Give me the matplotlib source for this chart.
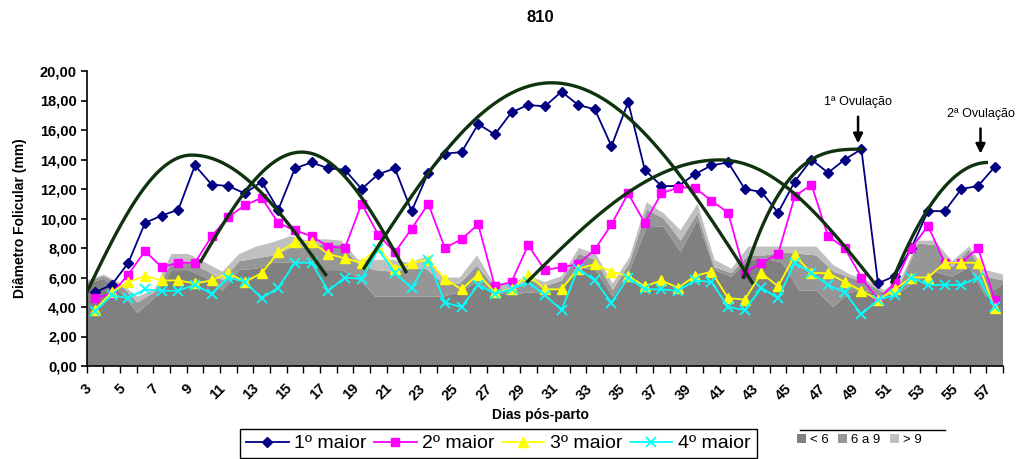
import numpy as np
import matplotlib
matplotlib.use('Agg')
import matplotlib.pyplot as plt
from matplotlib.lines import Line2D

plt.rcParams['font.family'] = ['Liberation Sans', 'DejaVu Sans']

# dias pos-parto (3 .. 57)
days = list(range(3, 58))

# diametro dos folículos (mm)
maior1 = [5.0, 5.5, 7.0, 9.7, 10.2, 10.6, 13.6, 12.3, 12.2, 11.7, 12.5, 10.6, 13.4, 13.8,
          13.4, 13.3, 12.0, 13.0, 13.4, 10.5, 13.1, 14.4, 14.5, 16.4, 15.7, 17.2, 17.7, 17.6,
          18.6, 17.7, 17.4, 14.9, 17.9, 13.3, 12.2, 12.2, 13.0, 13.6, 13.8, 12.0, 11.8, 10.4,
          12.5, 14.0, 13.1, 14.0, 14.7, 5.6, 6.1, 8.0, 10.5, 10.5, 12.0, 12.2, 13.5]
maior2 = [4.6, 4.9, 6.2, 7.8, 6.7, 7.0, 7.0, 8.8, 10.1, 10.9, 11.4, 9.7, 9.2, 8.8,
          8.1, 8.0, 11.0, 8.9, 7.7, 9.3, 11.0, 8.0, 8.6, 9.6, 5.4, 5.7, 8.2, 6.5,
          6.7, 6.9, 7.9, 9.6, 11.7, 9.7, 11.7, 12.1, 12.1, 11.2, 10.4, 6.3, 7.0, 7.6,
          11.5, 12.3, 8.8, 8.0, 6.0, 4.5, 5.6, 8.0, 9.5, 7.0, 7.0, 8.0, 4.5]
maior3 = [3.8, 5.0, 5.7, 6.1, 5.8, 5.8, 5.6, 5.8, 6.3, 5.7, 6.3, 7.7, 8.4, 8.4,
          7.6, 7.3, 7.0, 8.1, 6.6, 7.0, 7.2, 5.9, 5.2, 6.2, 5.0, 5.2, 6.2, 5.2,
          5.2, 6.6, 6.9, 6.4, 6.1, 5.4, 5.8, 5.3, 6.1, 6.4, 4.6, 4.5, 6.3, 5.4,
          7.5, 6.3, 6.3, 5.7, 5.1, 4.5, 5.2, 6.0, 6.0, 7.0, 7.0, 7.0, 3.9]
maior4 = [3.7, 4.8, 4.6, 5.2, 5.1, 5.1, 5.5, 4.9, 6.0, 5.7, 4.6, 5.3, 7.0, 7.0,
          5.1, 6.0, 5.9, 7.9, 6.3, 5.3, 7.2, 4.3, 4.0, 5.5, 4.9, 5.2, 5.7, 4.8,
          3.8, 6.6, 5.8, 4.3, 6.0, 5.2, 5.2, 5.1, 5.8, 5.7, 4.0, 3.8, 5.3, 4.6,
          7.0, 6.3, 5.5, 5.0, 3.5, 4.5, 4.8, 6.0, 5.5, 5.5, 5.5, 6.0, 4.0]

# classes de tamanho (areas empilhadas)
menor6 = [5.6, 5.9, 5.0, 3.6, 4.6, 6.5, 6.5, 6.0, 5.1, 6.5, 6.6, 7.0, 7.0, 7.0,
          6.5, 6.5, 6.0, 4.7, 4.7, 4.7, 4.7, 4.7, 5.0, 5.7, 5.0, 4.8, 5.0, 4.9,
          5.4, 6.7, 6.5, 4.7, 6.5, 9.4, 9.45, 7.75, 9.9, 6.5, 6.05, 7.2, 7.3, 7.0,
          5.1, 5.1, 4.0, 5.0, 5.05, 4.7, 5.05, 5.8, 6.4, 6.05, 6.7, 4.7, 5.6]
de6a9 = [0.1, 0.2, 0.5, 0.7, 0.4, 0.5, 0.5, 0.5, 0.7, 0.6, 0.7, 0.5, 1.0, 1.0,
         1.8, 1.7, 0.9, 1.8, 1.7, 1.9, 1.9, 0.9, 0.6, 1.1, 0.4, 0.2, 0.9, 0.5,
         0.4, 0.9, 0.7, 0.45, 0.5, 1.2, 0.55, 0.75, 0.45, 0.2, 0.25, 0.3, 0.2, 0.7,
         2.5, 2.4, 2.4, 1.0, 0.55, 0.25, 0.65, 2.5, 1.8, 0.65, 1.2, 1.35, 0.2]
maior9 = [0.1, 0.1, 0.1, 0.4, 0.2, 0.6, 0.6, 0.5, 0.6, 0.5, 0.8, 0.9, 0.8, 0.5,
          0.3, 0.3, 0.3, 0.7, 0.8, 0.4, 0.8, 0.4, 0.4, 0.7, 0.2, 0.6, 0.2, 0.3,
          0.3, 0.4, 0.4, 0.45, 0.4, 0.5, 0.35, 0.7, 0.65, 0.5, 0.3, 0.6, 0.6, 0.4,
          0.5, 0.6, 0.45, 0.2, 0.2, 0.2, 0.25, 0.2, 0.3, 0.4, 0.2, 0.45, 0.4]

# ondas foliculares: inicio, pico, fim (dia, mm)
wave_start_day = [2.3, 9.3, 19.1, 28.9, 41.9, 50.8]
wave_start_val = [4.5, 7.0, 6.55, 5.65, 5.9, 5.6]
wave_peak_day = [8.8, 15.4, 30.4, 40.5, 49.1, 56.6]
wave_peak_val = [14.3, 14.5, 19.2, 13.97, 14.7, 13.8]
wave_end_day = [16.9, 21.7, 42.5, 49.8, None, None]
wave_end_val = [6.1, 6.3, 5.56, 5.6, None, None]
wave_rise_pow = [None, None, None, None, 3, 2]

fig = plt.figure(figsize=(10.17, 4.59), dpi=100)
ax = fig.add_axes([86.7 / 1017, 1 - 366 / 459, (1003 - 86.7) / 1017, (366 - 71) / 459])

area_x = np.linspace(2.5, 57.5, len(menor6))
polys = ax.stackplot(area_x, menor6, de6a9, maior9,
                     colors=['#808080', '#969696', '#c0c0c0'], zorder=1, lw=0)

ax.plot(days, maior1, color='#000080', marker='D', ms=5.5, lw=1.3, label='1º maior', zorder=3)
ax.plot(days, maior2, color='#ff00ff', marker='s', ms=6, lw=1.3, label='2º maior', zorder=3)
ax.plot(days, maior3, color='#ffff00', marker='^', ms=7, lw=1.3, label='3º maior', zorder=3)
ax.plot(days, maior4, color='#00ffff', marker='x', ms=7, mew=1.3, lw=1.3, label='4º maior', zorder=3)

green = '#0f330f'
for k in range(len(wave_start_day)):
    x0, y0 = wave_start_day[k], wave_start_val[k]
    xp, yp = wave_peak_day[k], wave_peak_val[k]
    t = np.linspace(0, 1, 60)
    if wave_rise_pow[k] is None:
        xr = x0 + (xp - x0) * t
        yr = y0 + (yp - y0) * np.sin(np.pi / 2 * t)
        xe, ye = wave_end_day[k], wave_end_val[k]
        xf = xp + (xe - xp) * t
        yf = ye + (yp - ye) * np.cos(np.pi / 2 * t)
        xs = np.concatenate([xr, xf])
        ys = np.concatenate([yr, yf])
    else:
        xs = x0 + (xp - x0) * t
        ys = y0 + (yp - y0) * (1 - (1 - t) ** wave_rise_pow[k])
    ax.plot(xs, ys, color=green, lw=2.4, zorder=5, solid_capstyle='butt')

ax.set_xlim(2.5, 57.5)
ax.set_ylim(0, 20)
for s in ['top', 'right']:
    ax.spines[s].set_visible(False)
for s in ['left', 'bottom']:
    ax.spines[s].set_linewidth(1.2)

yt = np.arange(0, 21, 2)
ax.set_yticks(yt)
ax.set_yticklabels([('%.2f' % v).replace('.', ',') for v in yt],
                   fontsize=10.5, fontweight='bold')
ax.tick_params(axis='y', direction='out', length=4, width=1.2, pad=3)

ax.set_xticks(np.arange(2.5, 58, 1))
ax.set_xticklabels([])
ax.tick_params(axis='x', which='major', direction='out', length=5, width=1)
ax.set_xticks(days[::2], minor=True)
ax.set_xticklabels([str(d) for d in days[::2]], minor=True, rotation=45, ha='right',
                   fontsize=10.5, fontweight='bold')
ax.tick_params(axis='x', which='minor', length=0, pad=11)

# ovulacoes
arr = dict(arrowstyle='-|>', color='black', lw=1.8, mutation_scale=14, shrinkA=0, shrinkB=0)
ax.annotate('', xy=(48.8, 15.1), xytext=(48.8, 16.9), arrowprops=arr, zorder=6)
ax.text(48.8, 17.9, '1ª Ovulação', ha='center', va='center', fontsize=9)
ax.annotate('', xy=(56.15, 14.4), xytext=(56.15, 16.1), arrowprops=arr, zorder=6)
ax.text(56.15, 17.1, '2ª Ovulação', ha='center', va='center', fontsize=9)

fig.text(540 / 1017, 1 - 17 / 459, '810', ha='center', va='center',
         fontsize=12, fontweight='bold')
fig.text(20 / 1017, 1 - 218 / 459, 'Diâmetro Folicular (mm)', ha='center', va='center',
         rotation=90, fontsize=10, fontweight='bold')
fig.text(540 / 1017, 1 - 415 / 459, 'Dias pós-parto', ha='center', va='center',
         fontsize=10, fontweight='bold')

handles, labels = ax.get_legend_handles_labels()
leg = fig.legend(handles, labels, loc='upper left', bbox_to_anchor=(240 / 1017, 1 - 429 / 459),
                 ncol=4, fontsize=14, frameon=True, fancybox=False, edgecolor='black',
                 framealpha=1, handlelength=2.2, columnspacing=0.35, handletextpad=0.3,
                 borderpad=0.3, borderaxespad=0)
leg.get_frame().set_linewidth(1.0)

fig.legend(polys, ['< 6', '6 a 9', '> 9'], loc='upper left',
           bbox_to_anchor=(797 / 1017, 1 - 434 / 459), ncol=3, fontsize=9.5,
           frameon=False, handlelength=0.7, handleheight=0.7, handletextpad=0.3,
           columnspacing=0.7, borderpad=0, borderaxespad=0)
fig.add_artist(Line2D([800 / 1017, 945 / 1017], [1 - 430 / 459] * 2,
                      color='black', lw=1, transform=fig.transFigure))

fig.savefig('out.png', dpi=100)
